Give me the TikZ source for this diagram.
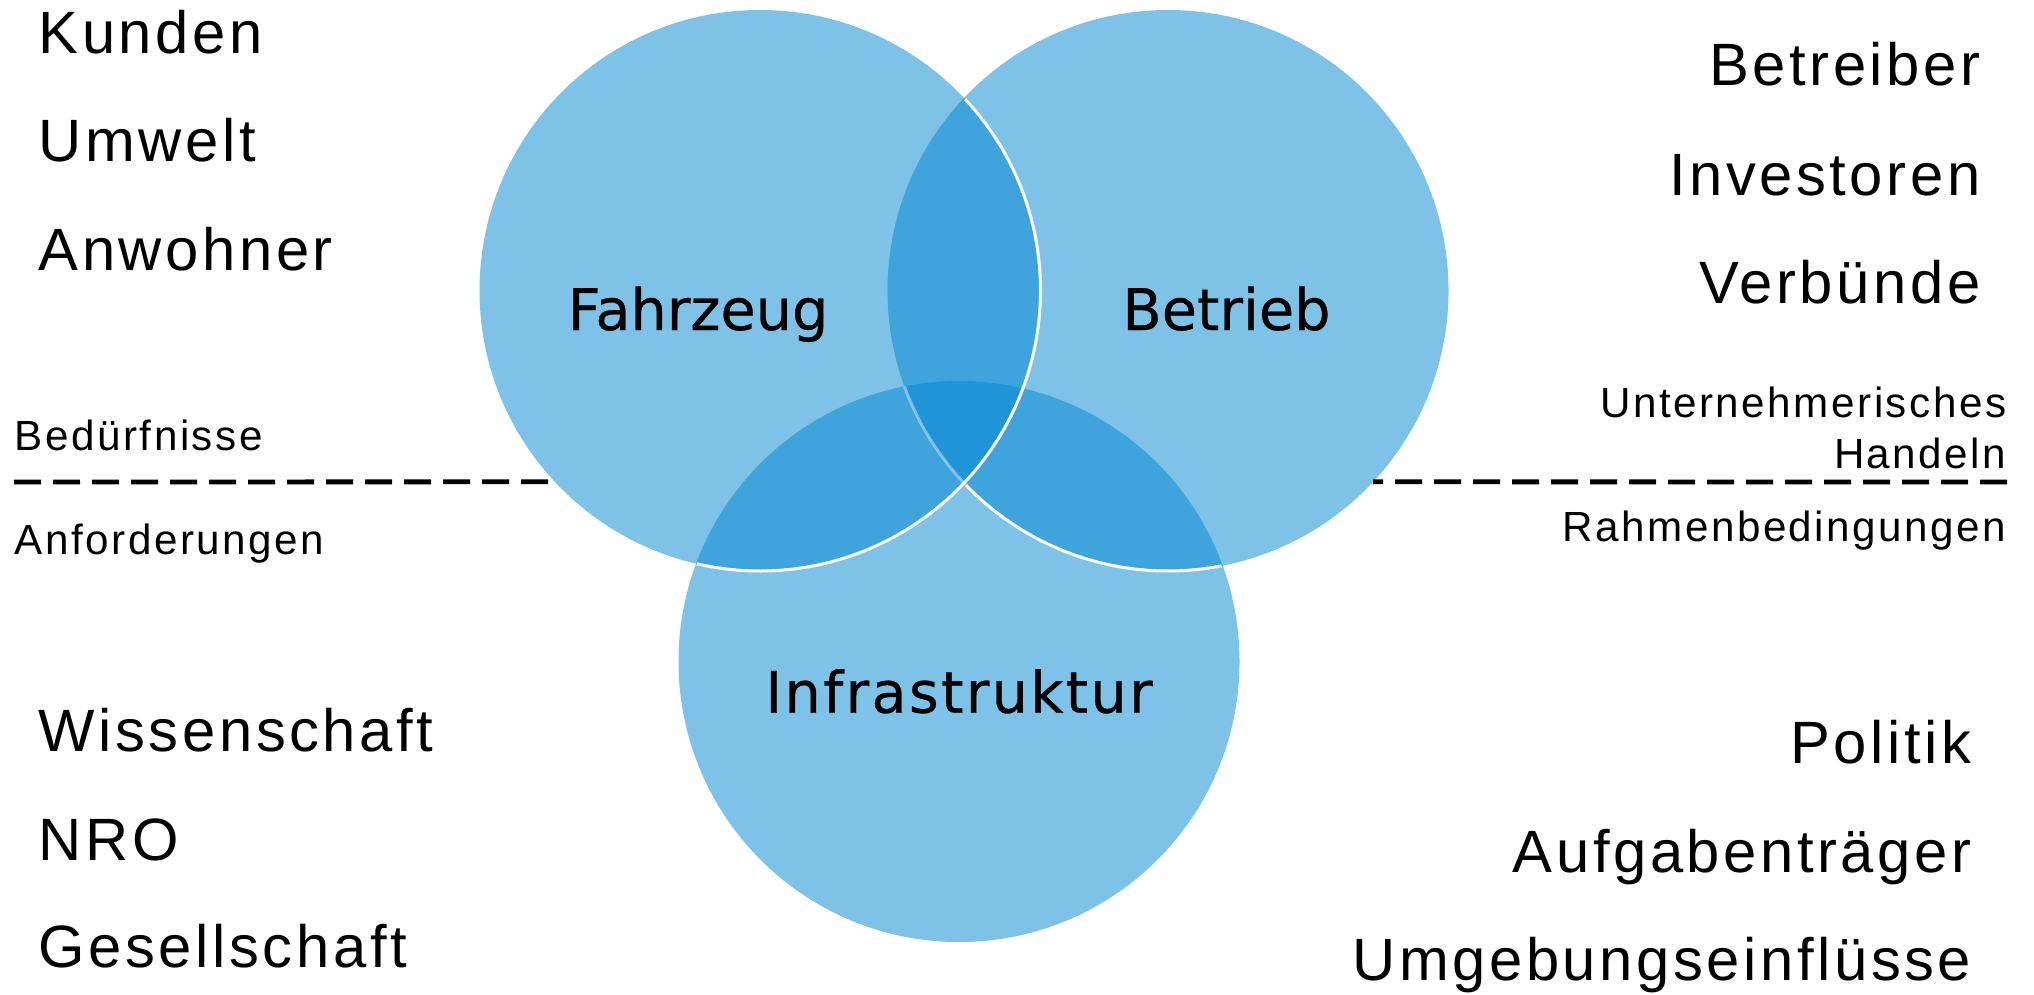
\documentclass[tikz,border=0pt]{standalone}
\usepackage{fontspec}
\setmainfont{Liberation Sans}
\newfontfamily\listfont[LetterSpace=6]{Liberation Sans}
\newfontfamily\sidefont[LetterSpace=6]{Liberation Sans}
\newfontfamily\ringfont[FakeBold=0.5]{DejaVu Sans}
\usetikzlibrary{positioning}
\definecolor{vennblue}{RGB}{0,133,209}
\tikzset{
  venn/.style={circle, fill=vennblue, fill opacity=0.5, minimum size=56.1mm,
    inner sep=0pt, outer sep=0pt},
  rim/.style={white, line width=0.3mm},
  sepline/.style={black, line width=0.48mm, dash pattern=on 2.7mm off 1.2mm},
  listtext/.style={inner sep=0pt, font=\listfont\fontsize{17}{20}\selectfont},
  sidetext/.style={inner sep=0pt, font=\sidefont\fontsize{12}{14}\selectfont},
  ringtext/.style={inner sep=0pt, anchor=base, font=\ringfont\fontsize{16.3}{19}\selectfont},
}

\begin{document}
\begin{tikzpicture}[x=0.1mm, y=0.1mm]
  \useasboundingbox (0,0) rectangle (2034,994);
  % three overlapping rings
  \node[venn] (fz) at (760,703.5) {};
  \node[venn] (bt) at (1168,703.5) {};
  \node[venn] (inf) at (959,332.5) {};
  % white rims where the rings cross
  \draw[rim] (fz.43) arc[start angle=43, end angle=-103, radius=28.05mm];
  \draw[rim] (bt.224) arc[start angle=224, end angle=281, radius=28.05mm];
  \draw[rim, draw opacity=0.4] (bt.200) arc[start angle=200, end angle=224, radius=28.05mm];
  % ring labels
  \node[ringtext] (fzl) at (698,664) {Fahrzeug};
  \node[ringtext] (btl) at (1226.5,664) {Betrieb};
  \node[ringtext, font=\ringfont\fontsize{16.3}{19}\selectfont\addfontfeature{LetterSpace=4}]
    (infl) at (959,281.3) {Infrastruktur};

  % separator Beduerfnisse / Anforderungen
  \draw[sepline] (14,512) -- (fz.223);
  \draw[sepline] (2007,512) -- (bt.317);
  \node[sidetext, anchor=base west] (bed) at (14,543.3) {Bedürfnisse};
  \node[sidetext, anchor=base west] (anf) at (14,440) {Anforderungen};
  \node[sidetext, anchor=base east] (unt) at (2007,576.7) {Unternehmerisches};
  \node[sidetext, anchor=base east] (han) at (2007,525.7) {Handeln};
  \node[sidetext, anchor=base east] (rah) at (2007,452.3) {Rahmenbedingungen};

  % stakeholder lists
  \foreach \txt/\y/\n in {Kunden/941/1, Umwelt/832.3/2, Anwohner/723.3/3}
    \node[listtext, anchor=base west] (tl\n) at (38,\y) {\txt};
  \foreach \txt/\y/\n in {Wissenschaft/243/1, NRO/134/2, Gesellschaft/26.7/3}
    \node[listtext, anchor=base west] (bl\n) at (38,\y) {\txt};
  \foreach \txt/\y/\n in {Betreiber/908/1, Investoren/799/2, Verbünde/690.7/3}
    \node[listtext, anchor=base east] (tr\n) at (1981,\y) {\txt};
  \foreach \txt/\y/\n in {Politik/230.7/1, Aufgabenträger/121.3/2, Umgebungseinflüsse/14/3}
    \node[listtext, anchor=base east] (br\n) at (1972,\y) {\txt};
\end{tikzpicture}
\end{document}
